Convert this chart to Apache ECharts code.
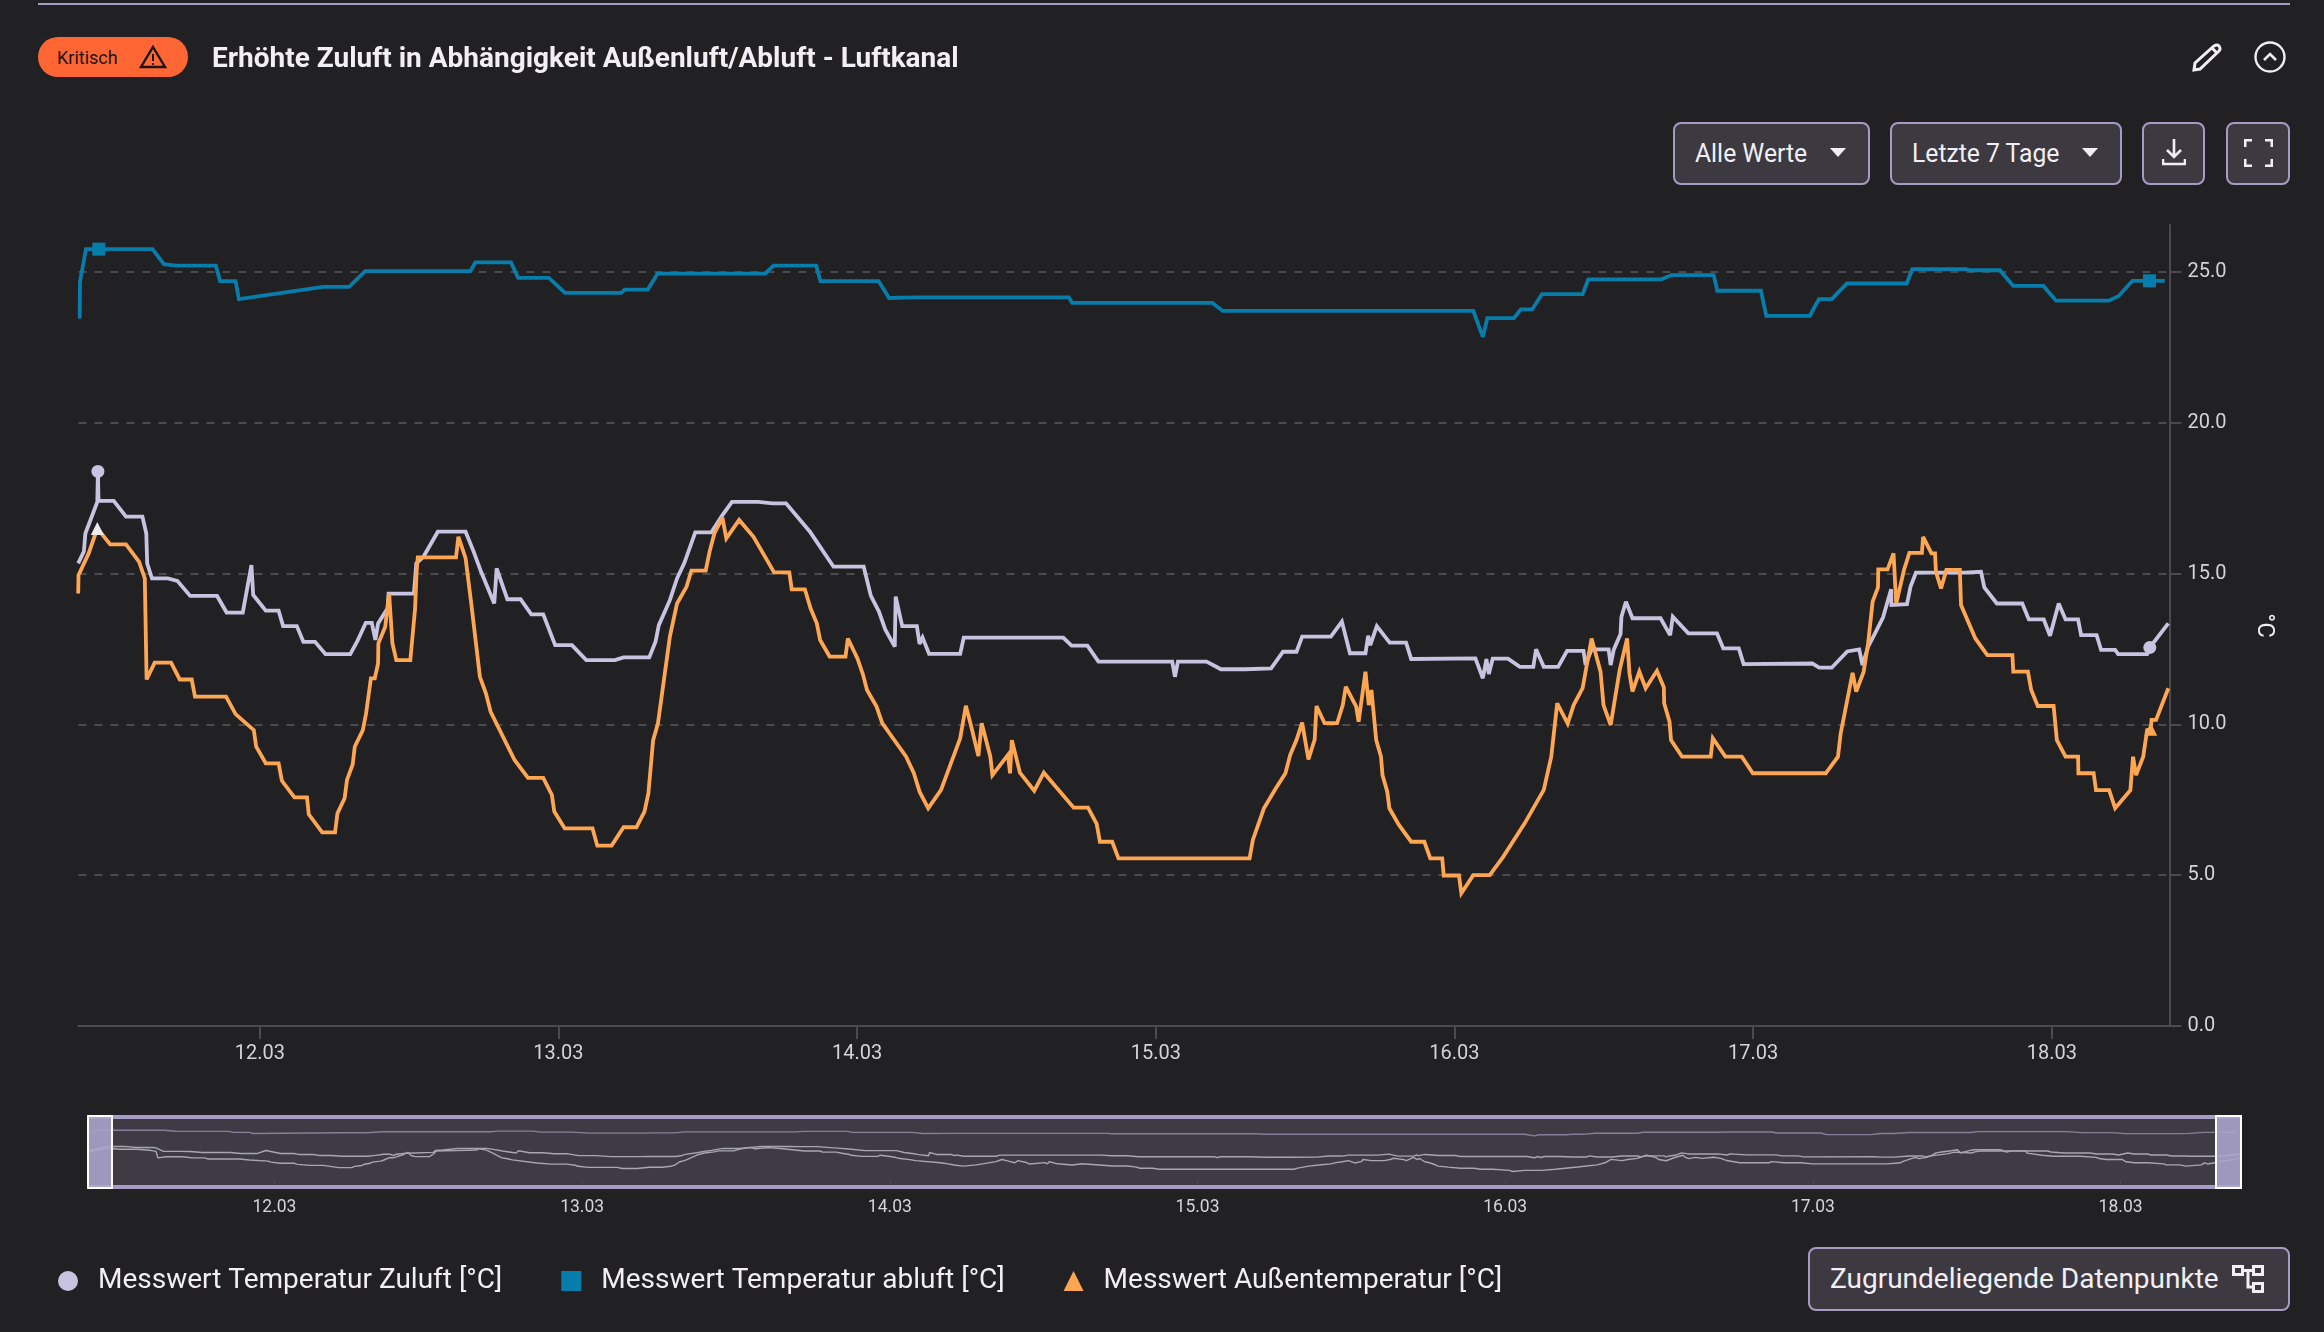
<!DOCTYPE html>
<html lang="de"><head><meta charset="utf-8"><title>Luftkanal</title>
<script src="https://cdn.jsdelivr.net/npm/echarts@6/dist/echarts.min.js"></script>
<style>
html,body{margin:0;padding:0;background:#212023;width:2324px;height:1332px;overflow:hidden;font-family:Roboto,sans-serif;color:#f1eff5}
#chart{position:absolute;left:0;top:0;width:2324px;height:1332px}
.abs{position:absolute}
.btn{position:absolute;box-sizing:border-box;background:#3c3a40;border:2px solid #a59cc3;border-radius:8px}
.t{position:absolute;white-space:nowrap;line-height:1}
.sq{transform:scaleX(.95);transform-origin:0 50%}
</style></head><body>
<div id="chart"></div>
<div class="abs" style="left:38px;top:3px;width:2252px;height:2px;background:#a59cc3"></div>
<div class="abs" style="left:38px;top:37px;width:150px;height:40px;border-radius:20px;background:#ff6633"></div>
<div class="t" style="left:57px;top:49px;font-size:18px;color:#1c1414;">Kritisch</div>
<svg class="abs" style="left:139px;top:45px" width="28" height="24" viewBox="0 0 28 24"><path d="M14 2 L26 22 H2 Z" fill="none" stroke="#1c1414" stroke-width="2.4"/><path d="M14 9v7M14 18v2" stroke="#1c1414" stroke-width="2"/></svg>
<div class="t" style="left:212px;top:44px;font-size:28px;font-weight:700;">Erhöhte Zuluft in Abhängigkeit Außenluft/Abluft - Luftkanal</div>
<svg class="abs" style="left:2192px;top:43px" width="30" height="29" viewBox="0 0 30 29"><path d="M2 27 L3 20 L22 3 Q25 1 27 3 Q29 6 27 8 L8 26 Z M20 5 L25 10" fill="none" stroke="#f1eff5" stroke-width="3"/></svg>
<svg class="abs" style="left:2254px;top:41px" width="32" height="32" viewBox="0 0 32 32"><circle cx="16" cy="16" r="14.5" fill="none" stroke="#f1eff5" stroke-width="2.4"/><path d="M10 19 L16 13 L22 19" fill="none" stroke="#f1eff5" stroke-width="2.6"/></svg>

<div class="btn" style="left:1673px;top:122px;width:197px;height:63px"></div>
<div class="t sq" style="left:1695px;top:140px;font-size:26px;">Alle Werte</div>
<svg class="abs" style="left:1830px;top:148px" width="16" height="9"><path d="M0 0H16L8 9Z" fill="#f1eff5"/></svg>
<div class="btn" style="left:1890px;top:122px;width:232px;height:63px"></div>
<div class="t sq" style="left:1912px;top:140px;font-size:26px;">Letzte 7 Tage</div>
<svg class="abs" style="left:2082px;top:148px" width="16" height="9"><path d="M0 0H16L8 9Z" fill="#f1eff5"/></svg>
<div class="btn" style="left:2142px;top:122px;width:63px;height:63px"></div>
<svg class="abs" style="left:2162px;top:139px" width="24" height="27" viewBox="0 0 24 27"><path d="M12 0V18M5 11L12 18L19 11M1 20V25H23V20" fill="none" stroke="#f1eff5" stroke-width="2.6"/></svg>
<div class="btn" style="left:2226px;top:122px;width:64px;height:63px"></div>
<svg class="abs" style="left:2244px;top:139px" width="29" height="28" viewBox="0 0 29 28"><path d="M1 8V1H8M21 1H28V8M28 20V27H21M8 27H1V20" fill="none" stroke="#f1eff5" stroke-width="3"/></svg>

<div class="btn" style="left:1808px;top:1247px;width:482px;height:64px"></div>
<div class="t" style="left:1830px;top:1265px;font-size:28px;">Zugrundeliegende Datenpunkte</div>
<svg class="abs" style="left:2232px;top:1265px" width="32" height="28" viewBox="0 0 32 28"><g fill="none" stroke="#f1eff5" stroke-width="3"><rect x="1.5" y="1.5" width="9" height="8"/><rect x="21.5" y="1.5" width="9" height="8"/><rect x="21.5" y="18.5" width="9" height="8"/><path d="M10 5.500H22M16 5.500V22H22"/></g></svg>

<script>
// Zeitpunkte als Tag im März, Werte in °C
const axisMinDay = 11.393;
const axisMaxDay = 18.394;
const yMax = 26.56;
const yTickStep = 5;
const seriesNames = ['Messwert Temperatur Zuluft [°C]','Messwert Temperatur abluft [°C]','Messwert Außentemperatur [°C]'];
const seriesColors = ['#c8c3e0','#067dab','#ffa653'];

const zuluftDays = [11.392,11.411,11.416,11.456,11.458,11.460,11.511,11.552,11.607,11.620,11.623,11.639,11.692,11.724,11.767,11.857,11.889,11.943,11.972,11.978,12.020,12.063,12.078,12.124,12.146,12.185,12.220,12.303,12.327,12.355,12.375,12.387,12.396,12.428,12.431,12.516,12.524,12.548,12.596,12.689,12.716,12.741,12.785,12.793,12.829,12.873,12.909,12.949,12.989,13.045,13.093,13.189,13.218,13.304,13.325,13.336,13.373,13.397,13.421,13.458,13.512,13.549,13.581,13.669,13.717,13.762,13.842,13.857,13.921,14.022,14.046,14.073,14.094,14.126,14.129,14.151,14.200,14.209,14.219,14.241,14.345,14.357,14.690,14.718,14.771,14.808,15.055,15.064,15.074,15.170,15.218,15.298,15.386,15.426,15.471,15.490,15.586,15.623,15.650,15.702,15.711,15.718,15.740,15.783,15.838,15.855,16.070,16.095,16.107,16.115,16.128,16.179,16.219,16.264,16.273,16.299,16.347,16.377,16.432,16.439,16.459,16.516,16.523,16.533,16.556,16.559,16.574,16.596,16.690,16.722,16.731,16.783,16.879,16.900,16.952,16.968,17.198,17.221,17.263,17.315,17.355,17.366,17.385,17.408,17.435,17.462,17.463,17.465,17.515,17.527,17.545,17.707,17.763,17.774,17.816,17.901,17.923,17.973,17.994,18.023,18.046,18.088,18.098,18.150,18.165,18.212,18.222,18.319,18.328,18.390];
const zuluftValues = [15.34,15.73,16.33,17.38,18.39,17.41,17.41,16.89,16.89,16.33,15.34,14.84,14.84,14.76,14.26,14.26,13.71,13.71,15.28,14.29,13.77,13.77,13.26,13.26,12.74,12.74,12.33,12.33,12.77,13.37,13.37,12.80,13.35,13.85,14.34,14.34,15.34,15.56,16.39,16.39,15.73,15.06,14.01,15.17,14.15,14.15,13.65,13.65,12.63,12.63,12.13,12.13,12.22,12.22,12.74,13.29,14.12,14.84,15.34,16.37,16.37,16.94,17.38,17.38,17.33,17.33,16.39,16.17,15.23,15.23,14.26,13.74,13.15,12.58,14.24,13.26,13.26,12.67,12.88,12.34,12.34,12.88,12.88,12.61,12.61,12.08,12.08,11.58,12.08,12.08,11.83,11.83,11.86,12.41,12.41,12.91,12.91,13.41,12.36,12.36,12.94,12.63,13.26,12.71,12.71,12.17,12.19,11.53,12.17,11.67,12.18,12.18,11.91,11.91,12.49,11.91,11.91,12.44,12.44,11.97,12.49,12.49,11.97,12.47,13.00,13.57,14.07,13.52,13.52,12.96,13.57,13.02,13.02,12.52,12.52,12.00,12.02,11.88,11.88,12.42,12.49,11.97,12.58,13.02,13.55,14.48,13.96,13.99,13.99,14.57,15.03,15.03,15.06,14.54,14.01,14.01,13.48,13.48,12.94,14.01,13.48,13.48,12.96,12.96,12.47,12.47,12.33,12.33,12.55,13.35];
const zuluftMarkerDays = [11.458,18.328];

const abluftDays = [11.397,11.398,11.418,11.461,11.641,11.679,11.719,11.853,11.867,11.919,11.930,12.212,12.299,12.353,12.705,12.722,12.841,12.865,12.968,13.022,13.210,13.222,13.299,13.332,13.692,13.720,13.863,13.877,14.072,14.107,14.197,14.709,14.720,15.189,15.224,16.063,16.095,16.110,16.199,16.222,16.260,16.293,16.429,16.448,16.692,16.727,16.868,16.880,17.026,17.044,17.190,17.220,17.263,17.314,17.514,17.533,17.714,17.725,17.826,17.871,17.972,18.014,18.190,18.223,18.270,18.327,18.378];
const abluftValues = [23.46,24.68,25.76,25.76,25.76,25.26,25.21,25.21,24.70,24.70,24.10,24.51,24.51,25.03,25.03,25.32,25.32,24.81,24.81,24.31,24.31,24.42,24.42,24.95,24.95,25.21,25.21,24.70,24.70,24.14,24.16,24.16,23.98,23.98,23.71,23.71,22.85,23.47,23.47,23.76,23.76,24.27,24.27,24.76,24.76,24.90,24.90,24.38,24.38,23.55,23.55,24.10,24.10,24.62,24.62,25.10,25.10,25.06,25.06,24.54,24.54,24.05,24.05,24.20,24.71,24.71,24.71];
const abluftMarkerDays = [11.461,18.327];

const aussenDays = [11.392,11.393,11.427,11.456,11.499,11.552,11.596,11.615,11.621,11.648,11.703,11.732,11.772,11.783,11.887,11.919,11.980,11.988,12.020,12.063,12.074,12.116,12.158,12.164,12.209,12.252,12.260,12.284,12.292,12.311,12.318,12.345,12.356,12.372,12.385,12.396,12.397,12.420,12.433,12.444,12.457,12.504,12.520,12.525,12.529,12.657,12.665,12.689,12.708,12.737,12.757,12.773,12.853,12.898,12.949,12.978,12.986,13.021,13.114,13.130,13.178,13.218,13.261,13.288,13.301,13.317,13.333,13.373,13.397,13.429,13.445,13.493,13.506,13.522,13.549,13.562,13.605,13.653,13.722,13.773,13.781,13.825,13.844,13.865,13.876,13.908,13.961,13.969,14.001,14.020,14.033,14.065,14.084,14.164,14.190,14.209,14.238,14.281,14.345,14.364,14.382,14.406,14.417,14.446,14.453,14.505,14.512,14.518,14.545,14.593,14.625,14.725,14.773,14.802,14.813,14.854,14.875,15.314,15.325,15.362,15.402,15.434,15.450,15.471,15.490,15.511,15.532,15.538,15.565,15.607,15.626,15.636,15.671,15.679,15.702,15.713,15.722,15.738,15.754,15.759,15.775,15.782,15.814,15.855,15.899,15.919,15.959,15.964,16.015,16.023,16.063,16.118,16.163,16.235,16.299,16.324,16.344,16.379,16.399,16.429,16.459,16.489,16.499,16.523,16.553,16.578,16.586,16.596,16.619,16.640,16.678,16.701,16.702,16.720,16.725,16.762,16.858,16.865,16.907,16.962,16.999,17.243,17.284,17.293,17.333,17.345,17.370,17.385,17.400,17.418,17.419,17.450,17.470,17.479,17.505,17.523,17.565,17.569,17.597,17.609,17.612,17.629,17.647,17.692,17.696,17.744,17.784,17.868,17.871,17.920,17.931,17.953,18.006,18.017,18.046,18.088,18.089,18.140,18.148,18.192,18.212,18.263,18.272,18.282,18.306,18.319,18.331,18.334,18.349,18.390];
const aussenValues = [14.34,14.95,15.67,16.50,15.97,15.97,15.39,14.84,11.49,12.05,12.05,11.49,11.49,10.92,10.92,10.34,9.81,9.26,8.71,8.71,8.13,7.58,7.58,7.02,6.42,6.42,7.05,7.55,8.16,8.67,9.26,9.81,10.37,11.53,11.53,12.02,12.69,13.24,14.34,12.69,12.13,12.13,13.85,15.06,15.54,15.54,16.22,15.51,14.01,11.58,11.03,10.42,8.82,8.23,8.23,7.66,7.11,6.55,6.55,5.98,5.98,6.59,6.59,7.11,7.71,9.48,10.03,12.91,14.01,14.57,15.10,15.10,15.73,16.33,16.86,16.17,16.78,16.22,15.04,15.04,14.48,14.48,13.85,13.35,12.80,12.25,12.25,12.85,12.19,11.64,11.14,10.59,10.04,8.93,8.38,7.77,7.22,7.83,9.54,10.62,9.93,8.95,10.04,8.93,8.32,8.99,8.38,9.48,8.40,7.80,8.40,7.24,7.24,6.70,6.11,6.11,5.56,5.56,6.17,7.22,7.88,8.38,8.99,9.48,10.06,8.84,9.50,10.61,10.04,10.04,10.64,11.25,10.59,10.09,11.75,10.64,11.14,9.48,8.93,8.32,7.77,7.22,6.67,6.11,6.11,5.56,5.56,4.99,4.99,4.40,5.00,5.00,5.61,6.72,7.83,8.93,10.70,10.03,10.64,11.20,12.85,11.75,10.64,9.98,11.80,12.85,11.69,11.09,11.75,11.20,11.78,11.23,10.70,10.09,9.48,8.93,8.93,9.54,8.93,8.93,8.38,8.38,8.93,9.70,11.71,11.09,11.75,12.69,14.07,14.54,15.14,15.14,15.67,14.01,15.12,15.69,15.69,16.22,15.67,15.67,15.06,14.51,15.12,15.12,13.96,12.85,12.30,12.30,11.75,11.75,11.14,10.61,10.61,9.48,8.93,8.93,8.38,8.38,7.82,7.82,7.22,7.82,8.93,8.32,8.93,9.81,9.84,10.15,10.15,11.20];
const aussenMarkerDays = [11.456,18.331];

const startOfMarch = new Date(2024,2,1).getTime();
const toTime = d => startOfMarch + (d-1)*864e5;
const pairs = (days, vals) => days.map((d,i)=>[toTime(d), vals[i]]);
const marked = (days, vals, markers, firstColor) => days.map((d,i)=>{
  const isM = markers.includes(d);
  const item = {value:[toTime(d), vals[i]], symbol: isM ? undefined : 'none'};
  if (isM && firstColor && d===markers[0]) item.itemStyle = {color:firstColor};
  return item;
});
const axisLabelColor = '#d4d3d8', axisLine = '#4b4a4f', handleFill = 'rgba(172,165,205,0.88)';
const fmt = v => { const d=new Date(v); const p=n=>String(n).padStart(2,'0'); return p(d.getDate())+'.'+p(d.getMonth()+1); };
const dayAxis = extra => Object.assign({type:'time',min:toTime(axisMinDay),max:toTime(axisMaxDay),minInterval:864e5,maxInterval:864e5,splitNumber:7,splitLine:{show:false},minorTick:{show:false}},extra);
const lineSeries = (i,data,symbol) => ({name:seriesNames[i],type:'line',xAxisIndex:0,yAxisIndex:0,data,showSymbol:true,showAllSymbol:true,symbol,symbolSize:13,smooth:false,lineStyle:{width:3.8,color:seriesColors[i],join:'miter',miterLimit:3},itemStyle:{color:seriesColors[i]},z:i===2?3:2,silent:true,animation:false});
const shadowSeries = (days,vals,c) => ({type:'line',xAxisIndex:1,yAxisIndex:1,data:pairs(days,vals),showSymbol:false,lineStyle:{width:1.4,color:c},silent:true,animation:false,z:2});

const chart = echarts.init(document.getElementById('chart'),null,{renderer:'canvas'});
chart.setOption({
  animation:false,
  backgroundColor:'#212023',
  textStyle:{fontFamily:'Roboto'},
  grid:[
    {left:78.5,right:154.5,top:225,height:801,containLabel:false},
    {left:87.7,width:2154.1,top:1115,height:74,show:true,backgroundColor:'#3e3b44',borderWidth:0}
  ],
  xAxis:[
    dayAxis({gridIndex:0,axisLine:{lineStyle:{color:axisLine,width:2}},axisTick:{length:13,lineStyle:{color:axisLine,width:2}},axisLabel:{color:axisLabelColor,fontSize:20,margin:18,formatter:fmt,showMinLabel:false,showMaxLabel:false}}),
    dayAxis({gridIndex:1,axisLine:{show:false},axisTick:{length:4,lineStyle:{color:axisLine,width:1}},axisLabel:{color:axisLabelColor,fontSize:17.5,margin:10,formatter:fmt,showMinLabel:false,showMaxLabel:false}})
  ],
  yAxis:[
    {type:'value',gridIndex:0,position:'right',min:0,max:yMax,interval:yTickStep,name:'°C',nameLocation:'middle',nameGap:82,nameRotate:-90,nameTextStyle:{color:'#f1eff5',fontSize:24},
     axisLine:{show:true,lineStyle:{color:axisLine,width:2}},axisTick:{show:true,length:12,lineStyle:{color:axisLine,width:2}},
     axisLabel:{color:axisLabelColor,fontSize:20,margin:18,padding:[3,0,0,0],formatter:v=>v.toFixed(1),showMaxLabel:false},
     splitLine:{show:true,showMinLine:false,showMaxLine:false,lineStyle:{color:axisLine,width:2,type:[8,8]}}},
    {type:'value',gridIndex:1,min:-4.66,max:33.7,axisLine:{show:false},axisTick:{show:false},axisLabel:{show:false},splitLine:{show:false}}
  ],
  legend:{left:53,top:1262,itemWidth:20,itemHeight:20,itemGap:59,selectedMode:false,
    textStyle:{color:'#f1eff5',fontSize:28,padding:[0,0,0,15]},
    data:[{name:seriesNames[0],icon:'circle'},{name:seriesNames[1],icon:'rect'},{name:seriesNames[2],icon:'triangle'}]},
  graphic:[
    {type:'rect',z:50,shape:{x:87,y:1115,width:2155,height:4},style:{fill:'#a59cc3'}},
    {type:'rect',z:50,shape:{x:87,y:1185,width:2155,height:4},style:{fill:'#a59cc3'}},
    {type:'rect',z:51,shape:{x:88,y:1116,width:24,height:72},style:{fill:handleFill,stroke:'#ffffff',lineWidth:2}},
    {type:'rect',z:51,shape:{x:2216,y:1116,width:25,height:72},style:{fill:handleFill,stroke:'#ffffff',lineWidth:2}}
  ],
  series:[
    lineSeries(0,marked(zuluftDays,zuluftValues,zuluftMarkerDays),'circle'),
    lineSeries(1,marked(abluftDays,abluftValues,abluftMarkerDays),'rect'),
    lineSeries(2,marked(aussenDays,aussenValues,aussenMarkerDays,'#ececec'),'triangle'),
    shadowSeries(abluftDays,abluftValues,'#85809a'),
    shadowSeries(zuluftDays,zuluftValues,'#a8a7ad'),
    shadowSeries(aussenDays,aussenValues,'#a8a7ad')
  ]
});
</script>
</body></html>
